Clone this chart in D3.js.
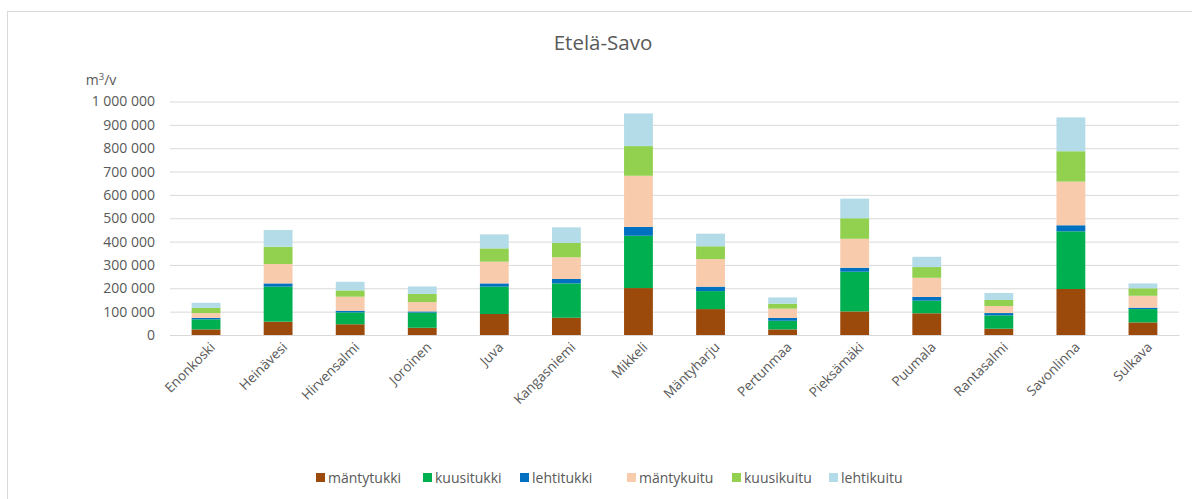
<!DOCTYPE html>
<html>
<head>
<meta charset="utf-8">
<script src="https://cdn.jsdelivr.net/npm/d3@7"></script>
<style>
  body { margin: 0; background: #fff; }
  svg text { font-family: "Open Sans", "Liberation Sans", sans-serif; fill: #595959; }
</style>
</head>
<body>
<svg id="chart" width="1192" height="499"></svg>
<script>
const municipalities = ["Enonkoski", "Heinävesi", "Hirvensalmi", "Joroinen", "Juva", "Kangasniemi", "Mikkeli",
  "Mäntyharju", "Pertunmaa", "Pieksämäki", "Puumala", "Rantasalmi", "Savonlinna", "Sulkava"];
const assortments = ["mäntytukki", "kuusitukki", "lehtitukki", "mäntykuitu", "kuusikuitu", "lehtikuitu"];
const mantytukki = [24000, 57000, 46000, 31000, 90000, 74000, 201000, 111000, 24000, 101000, 93000, 27000, 197000, 54000];
const kuusitukki = [43000, 150000, 51000, 65000, 117000, 147000, 224000, 77000, 37000, 170000, 54000, 57000, 247000, 57000];
const lehtitukki = [6000, 14000, 7000, 5000, 14000, 19000, 38000, 19000, 12000, 17000, 16000, 10000, 26000, 6000];
const mantykuitu = [21000, 83000, 60000, 40000, 93000, 93000, 219000, 118000, 40000, 124000, 82000, 30000, 187000, 51000];
const kuusikuitu = [22000, 74000, 27000, 35000, 57000, 61000, 127000, 55000, 21000, 88000, 46000, 26000, 130000, 32000];
const lehtikuitu = [22000, 72000, 37000, 32000, 60000, 67000, 140000, 54000, 27000, 84000, 44000, 30000, 145000, 21000];
const yTicks = [0, 100000, 200000, 300000, 400000, 500000, 600000, 700000, 800000, 900000, 1000000];
const colors = ["#9C4A0C", "#00B050", "#0070C0", "#F8CBAD", "#92D050", "#B4DCE8"];

const series = [mantytukki, kuusitukki, lehtitukki, mantykuitu, kuusikuitu, lehtikuitu];
const table = municipalities.map((m, i) => {
  const row = { name: m };
  assortments.forEach((a, j) => (row[a] = series[j][i]));
  return row;
});

const svg = d3.select("#chart");
const margin = { top: 101.5, left: 170, right: 1179, bottom: 335 };

// outer chart frame
svg.append("rect")
  .attr("x", 7.5).attr("y", 11.5)
  .attr("width", 1220).attr("height", 520)
  .attr("fill", "none").attr("stroke", "#D9D9D9");

const x = d3.scaleBand().domain(municipalities)
  .range([margin.left, margin.right]).paddingInner(0.6).paddingOuter(0.3);
const y = d3.scaleLinear().domain([0, 1000000]).range([margin.bottom, margin.top]);
const color = d3.scaleOrdinal().domain(assortments).range(colors);
const fmt = d3.formatLocale({ decimal: ",", thousands: " ", grouping: [3], currency: ["", ""] }).format(",d");

svg.append("text")
  .attr("x", 603).attr("y", 50)
  .attr("text-anchor", "middle")
  .style("font-size", "20.5px")
  .text("Etelä-Savo");

svg.append("text")
  .attr("x", 101).attr("y", 85)
  .attr("text-anchor", "middle")
  .style("font-size", "14px")
  .html('m<tspan dy="-5" font-size="9.5px">3</tspan><tspan dy="5">/v</tspan>');

// gridlines + y labels
const yAxis = svg.append("g")
  .attr("transform", "translate(" + margin.left + ",0)")
  .call(d3.axisLeft(y).tickValues(yTicks).tickFormat(fmt)
    .tickSize(-(margin.right - margin.left)).tickPadding(15));
yAxis.select(".domain").remove();
yAxis.selectAll(".tick line").attr("stroke", "#D9D9D9");
yAxis.selectAll(".tick text").style("font-size", "14px").attr("fill", "#595959");

const stack = d3.stack().keys(assortments)(table);

svg.append("g")
  .selectAll("g")
  .data(stack)
  .enter()
  .append("g")
  .attr("fill", d => color(d.key))
  .selectAll("rect")
  .data(d => d)
  .enter()
  .append("rect")
  .attr("x", d => x(d.data.name))
  .attr("y", d => y(d[1]))
  .attr("width", x.bandwidth())
  .attr("height", d => y(d[0]) - y(d[1]));

// x axis
const xAxis = svg.append("g")
  .attr("transform", "translate(0," + margin.bottom + ")")
  .call(d3.axisBottom(x).tickSize(0).tickPadding(0));
xAxis.select(".domain").attr("stroke", "#D9D9D9");
xAxis.selectAll(".tick text")
  .style("font-size", "13.5px")
  .attr("fill", "#595959")
  .attr("text-anchor", "end")
  .attr("dy", "0")
  .attr("transform", "translate(10,13) rotate(-45)");

// legend
const legendX = [316, 423, 520, 627, 732, 829];
const legend = svg.append("g")
  .selectAll("g")
  .data(assortments)
  .enter()
  .append("g")
  .attr("transform", (d, i) => "translate(" + legendX[i] + ",473)");
legend.append("rect")
  .attr("width", 9).attr("height", 9)
  .attr("fill", d => color(d));
legend.append("text")
  .attr("x", 12).attr("y", 10)
  .style("font-size", "14px")
  .text(d => d);
</script>
</body>
</html>
